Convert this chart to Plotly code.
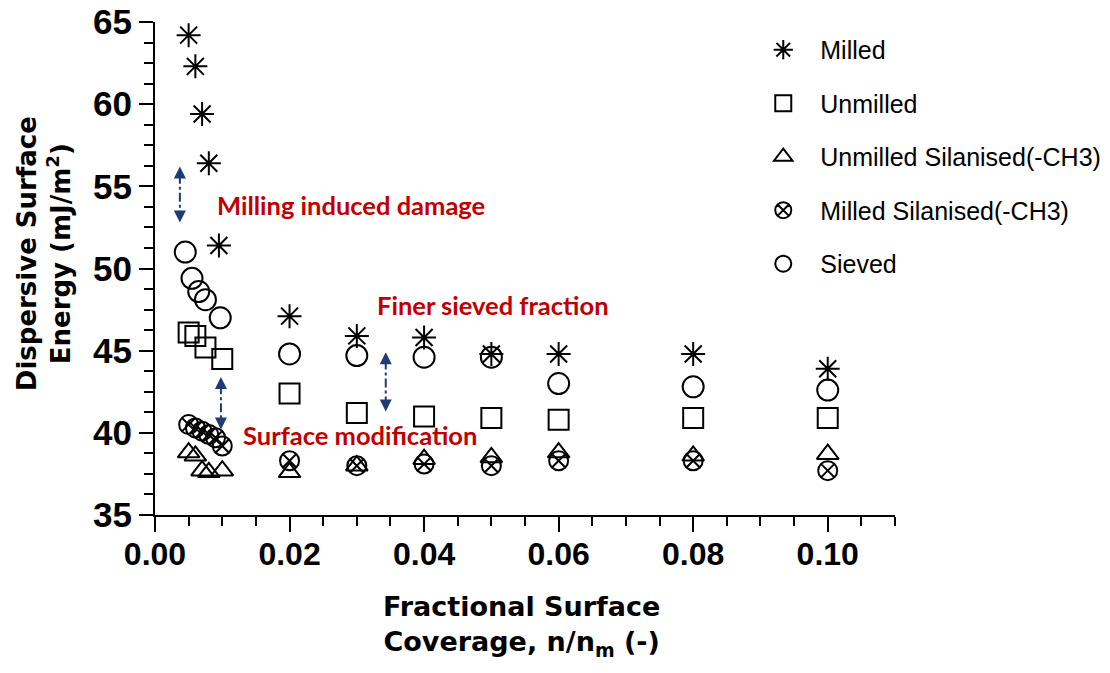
import plotly.graph_objects as go

# ---- data ----
milled_x = [0.005, 0.006, 0.007, 0.008, 0.0095, 0.02, 0.03, 0.04, 0.05, 0.06, 0.08, 0.10]
milled_y = [64.2, 62.3, 59.4, 56.4, 51.4, 47.1, 45.9, 45.8, 44.8, 44.8, 44.8, 43.9]

unmilled_x = [0.005, 0.006, 0.0075, 0.01, 0.02, 0.03, 0.04, 0.05, 0.06, 0.08, 0.10]
unmilled_y = [46.1, 45.9, 45.2, 44.5, 42.4, 41.2, 41.0, 40.9, 40.8, 40.9, 40.9]

unmilled_sil_x = [0.005, 0.006, 0.007, 0.008, 0.01, 0.02, 0.03, 0.04, 0.05, 0.06, 0.08, 0.10]
unmilled_sil_y = [38.8, 38.6, 37.7, 37.6, 37.7, 37.6, 38.0, 38.4, 38.5, 38.8, 38.6, 38.7]

milled_sil_x = [0.005, 0.006, 0.007, 0.008, 0.009, 0.01, 0.02, 0.03, 0.04, 0.05, 0.06, 0.08, 0.10]
milled_sil_y = [40.5, 40.3, 40.1, 39.9, 39.7, 39.2, 38.3, 38.0, 38.1, 38.0, 38.3, 38.3, 37.7]

sieved_x = [0.0045, 0.0055, 0.0065, 0.0075, 0.0097, 0.02, 0.03, 0.04, 0.05, 0.06, 0.08, 0.10]
sieved_y = [51.0, 49.4, 48.6, 48.1, 47.0, 44.8, 44.7, 44.6, 44.6, 43.0, 42.8, 42.6]

series = [
    ("Milled", milled_x, milled_y, "asterisk-open", 20),
    ("Unmilled", unmilled_x, unmilled_y, "square-open", 20),
    ("Unmilled Silanised(-CH3)", unmilled_sil_x, unmilled_sil_y, "triangle-up-open", 19),
    ("Milled Silanised(-CH3)", milled_sil_x, milled_sil_y, "circle-x-open", 19),
    ("Sieved", sieved_x, sieved_y, "circle-open", 21),
]

# annotation texts and arrow spans
notes = [
    ("Milling induced damage", 0.0291, 53.86),
    ("Finer sieved fraction", 0.0502, 47.78),
    ("Surface modification", 0.0305, 39.87),
]
arrows = [  # x, y_top, y_bottom
    (0.0037, 56.2, 52.8),
    (0.0098, 43.4, 40.2),
    (0.0343, 44.9, 41.3),
]

TICKFONT = "Liberation Sans, Arial, sans-serif"

fig = go.Figure()
for i, (name, xs, ys, sym, sz) in enumerate(series):
    fig.add_trace(go.Scatter(
        x=xs, y=ys, mode="markers", name=name, legendgroup=f"g{i}",
        marker=dict(symbol=sym, size=sz, color="black", line=dict(color="black", width=2)),
    ))

NAVY = "#1F3B73"
RED = "#C00000"
for (x, y1, y2) in arrows:
    fig.add_shape(type="line", xref="x", yref="y", x0=x, x1=x, y0=y1 - 0.5, y1=y2 + 0.5,
                  line=dict(color=NAVY, width=2, dash="dashdot"))
    for (tip, frm) in ((y1, y1 - 0.6), (y2, y2 + 0.6)):
        fig.add_annotation(x=x, y=tip, ax=x, ay=frm, xref="x", yref="y", axref="x", ayref="y",
                           text="", showarrow=True, arrowhead=2, arrowsize=1.2, arrowwidth=2,
                           arrowcolor=NAVY, standoff=0, startstandoff=0)

for (t, x, y) in notes:
    fig.add_annotation(x=x, y=y, xref="x", yref="y", text=f"<b>{t}</b>", showarrow=False,
                       xanchor="center", yanchor="middle",
                       font=dict(family="Lato", size=25.5, color=RED))

# axis titles as annotations for placement control
fig.add_annotation(x=-0.15, y=0.529, xref="paper", yref="paper", textangle=-90,
                   xanchor="center", yanchor="middle",
                   text="<b>Dispersive Surface<br>Energy (mJ/m<sup>2</sup>)</b>", showarrow=False,
                   font=dict(family="DejaVu Sans", size=26, color="black"))
fig.add_annotation(x=0.495, y=-0.225, xref="paper", yref="paper",
                   xanchor="center", yanchor="middle",
                   text="<b>Fractional Surface<br>Coverage, n/n<sub>m</sub> (-)</b>", showarrow=False,
                   font=dict(family="DejaVu Sans", size=27, color="black"))

fig.update_xaxes(range=[0, 0.11], dtick=0.02, tick0=0, tickformat=".2f", showgrid=False, zeroline=False,
                 automargin=False, ticklabeloverflow="allow", ticklabelstandoff=-5,
                 showline=True, linecolor="black", linewidth=2, ticks="outside", ticklen=15,
                 tickwidth=2, tickcolor="black",
                 tickfont=dict(family=TICKFONT, size=32, color="black", weight="bold"),
                 minor=dict(dtick=0.005, tick0=0, ticks="outside", ticklen=9, tickwidth=2,
                            tickcolor="black", showgrid=False))
fig.update_yaxes(range=[35, 65], dtick=5, tick0=35, showgrid=False, zeroline=False,
                 automargin=False, ticklabeloverflow="allow",
                 showline=True, linecolor="black", linewidth=2, ticks="outside", ticklen=14,
                 tickwidth=2, tickcolor="black",
                 tickfont=dict(family=TICKFONT, size=35, color="black", weight="bold"),
                 minor=dict(dtick=1.25, tick0=35, ticks="outside", ticklen=9, tickwidth=2,
                            tickcolor="black", showgrid=False))

# the page body adds an 8px offset, so the figure is 8px smaller on each axis
fig.update_layout(
    template="none",
    width=1102, height=665,
    margin=dict(l=147, r=215, t=14, b=158, autoexpand=False),
    paper_bgcolor="white", plot_bgcolor="white",
    showlegend=True,
    legend=dict(x=0.799, y=0.99, xanchor="left", yanchor="top", bgcolor="rgba(0,0,0,0)",
                font=dict(family="Liberation Sans", size=25, color="black"),
                tracegroupgap=18, itemwidth=64),
)

fig.write_html("out.html")
